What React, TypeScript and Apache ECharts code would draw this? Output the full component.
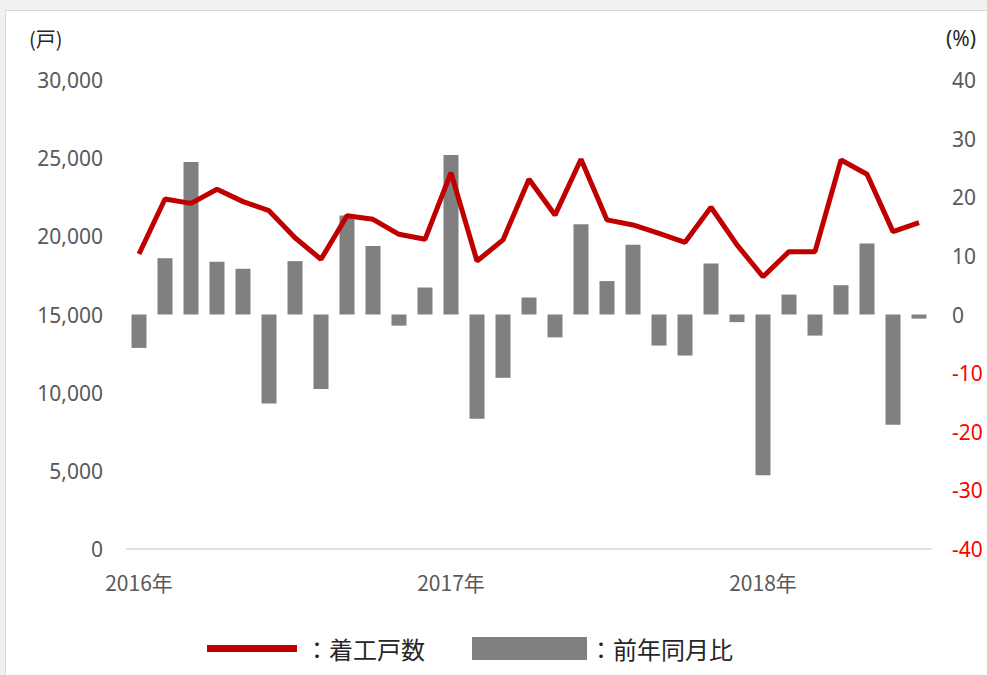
import React, { useEffect, useRef } from "react";
import * as echarts from "echarts";

const months: string[] = [];
for (let y = 2016; y <= 2018; y++) {
  for (let m = 1; m <= 12; m++) {
    if (y === 2018 && m > 7) break;
    months.push(`${y}-${m}`);
  }
}
const yearLabels: Record<number, string> = { 0: "2016年", 12: "2017年", 24: "2018年" };

const starts = [
  18870, 22390, 22110, 23010, 22220, 21640, 19910, 18530, 21320, 21090, 20130, 19810,
  24070, 18420, 19770, 23650, 21360, 24930, 21050, 20730, 20190, 19620, 21860, 19450,
  17420, 19020, 19020, 24880, 23970, 20300, 20870,
];
const yoy = [
  -5.7, 9.6, 26.0, 9.0, 7.8, -15.2, 9.1, -12.7, 16.9, 11.7, -1.9, 4.6,
  27.2, -17.8, -10.8, 2.9, -3.9, 15.4, 5.7, 11.9, -5.3, -7.0, 8.7, -1.3,
  -27.4, 3.4, -3.6, 5.0, 12.1, -18.8, -0.7,
];
const leftTicks = { min: 0, max: 30000, interval: 5000 };
const rightTicks = { min: -40, max: 40, interval: 10 };

const numFont = "'Noto Sans', 'Noto Sans CJK JP', sans-serif";
const cjkFont = "'Noto Sans CJK JP', 'Noto Sans', sans-serif";

export default function App() {
  const ref = useRef<HTMLDivElement>(null);
  useEffect(() => {
    if (!ref.current) return;
    const chart = echarts.init(ref.current, undefined, { renderer: "svg" });
    chart.setOption({
      animation: false,
      backgroundColor: "#f0f0f0",
      graphic: [
        {
          type: "rect",
          z: -10,
          shape: { x: 5.5, y: 10.5, width: 1000, height: 700 },
          style: { fill: "#ffffff", stroke: "#d9d9d9", lineWidth: 1 },
        },
        {
          type: "rect",
          shape: { x: 207, y: 645, width: 90, height: 7 },
          style: { fill: "#c00000" },
        },
        {
          type: "text",
          x: 305,
          y: 648,
          style: { text: "：着工戸数", fill: "#262626", font: `24px ${cjkFont}`, verticalAlign: "middle" },
        },
        {
          type: "rect",
          shape: { x: 472, y: 637, width: 115, height: 23 },
          style: { fill: "#808080" },
        },
        {
          type: "text",
          x: 589,
          y: 648,
          style: { text: "：前年同月比", fill: "#262626", font: `24px ${cjkFont}`, verticalAlign: "middle" },
        },
        {
          type: "text",
          x: 29,
          y: 38,
          style: { text: "(戸)", fill: "#262626", font: `20px ${cjkFont}`, verticalAlign: "middle" },
        },
        {
          type: "text",
          x: 946,
          y: 38,
          style: { text: "(%)", fill: "#262626", font: `21px ${numFont}`, verticalAlign: "middle" },
        },
      ],
      grid: { left: 126, right: 55, top: 80, bottom: 126, containLabel: false },
      xAxis: {
        type: "category",
        data: months,
        boundaryGap: true,
        axisLine: { onZero: false, lineStyle: { color: "#d9d9d9", width: 1.5 } },
        axisTick: { show: false },
        splitLine: { show: false },
        axisLabel: {
          interval: 0,
          margin: 22,
          color: "#595959",
          fontSize: 21,
          fontFamily: cjkFont,
          formatter: (_v: string, i: number) => yearLabels[i] ?? "",
        },
      },
      yAxis: [
        {
          type: "value",
          min: leftTicks.min,
          max: leftTicks.max,
          interval: leftTicks.interval,
          splitLine: { show: false },
          axisLine: { show: false },
          axisTick: { show: false },
          axisLabel: {
            margin: 23,
            color: "#595959",
            fontSize: 21,
            fontFamily: numFont,
            formatter: (v: number) => v.toLocaleString("en-US"),
          },
        },
        {
          type: "value",
          min: rightTicks.min,
          max: rightTicks.max,
          interval: rightTicks.interval,
          position: "right",
          splitLine: { show: false },
          axisLine: { show: false },
          axisTick: { show: false },
          axisLabel: {
            margin: 20,
            fontSize: 21,
            fontFamily: numFont,
            color: (v: any) => (Number(v) < 0 ? "#ff0000" : "#595959"),
          },
        },
      ],
      series: [
        {
          name: "前年同月比",
          type: "bar",
          yAxisIndex: 1,
          data: yoy,
          barWidth: 15,
          itemStyle: { color: "#808080" },
          z: 2,
        },
        {
          name: "着工戸数",
          type: "line",
          yAxisIndex: 0,
          data: starts,
          symbol: "none",
          lineStyle: { color: "#c00000", width: 5 },
          z: 3,
        },
      ],
    });
    return () => chart.dispose();
  }, []);
  return (
    <div
      ref={ref}
      style={{ position: "absolute", left: 0, top: 0, width: 987, height: 675 }}
    />
  );
}
